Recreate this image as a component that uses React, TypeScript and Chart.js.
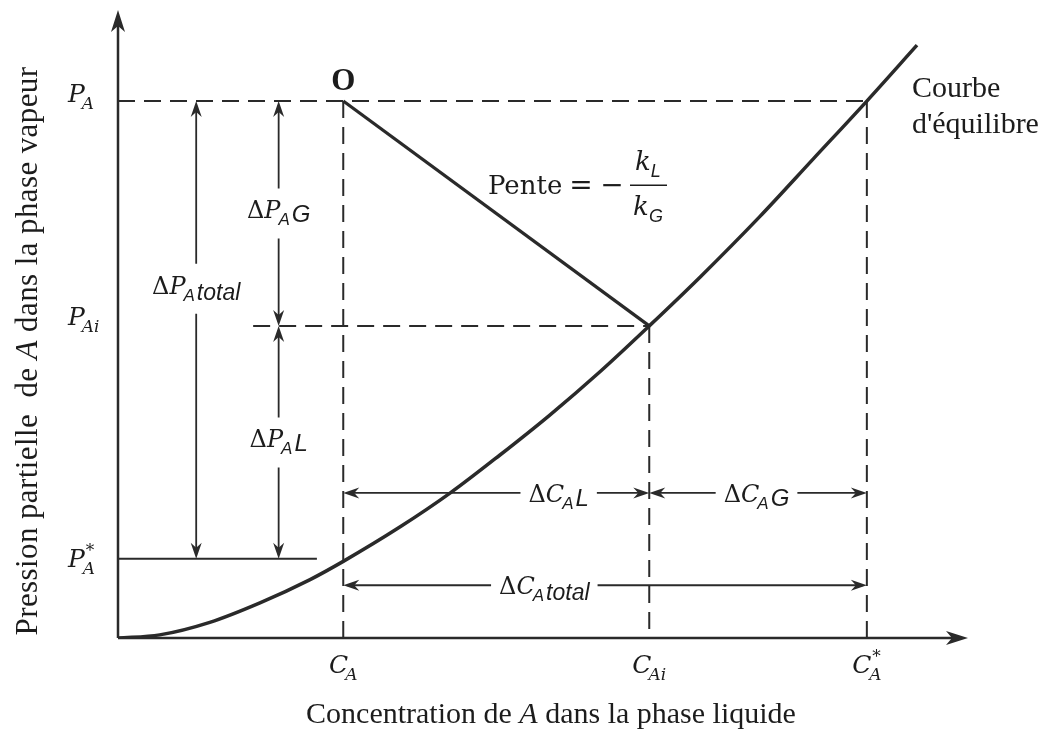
import { useEffect, useRef } from 'react';
import { Chart, registerables } from 'chart.js';

Chart.register(...registerables);

// Liquid-phase concentrations and vapour-phase partial pressures (arbitrary units, 0–100)
const C_A = 26.5;
const C_Ai = 62.5;
const C_Astar = 88.1;
const P_A = 85.5;
const P_Ai = 49.7;
const P_Astar = 12.6;

// Equilibrium curve P = f(C)
const curveC = [0, 4.9, 10.8, 16.7, 22.6, 26.5, 33.2, 39.1, 44.9, 50.8, 56.7, 62.5, 68.5, 75.5, 81.8, 88.1, 94.0];
const curveP = [0, 0.5, 2.5, 5.6, 9.3, 12.2, 17.7, 23.1, 29.1, 35.5, 42.4, 49.7, 57.5, 67.1, 76.3, 85.5, 94.4];

// Axis tick labels (base letter, subscript, superscript)
const xTickValues = [C_A, C_Ai, C_Astar];
const xTickBase = ['C', 'C', 'C'];
const xTickSub = ['A', 'Ai', 'A'];
const xTickSup = ['', '', '*'];

const yTickValues = [P_A, P_Ai, P_Astar];
const yTickBase = ['P', 'P', 'P'];
const yTickSub = ['A', 'Ai', 'A'];
const yTickSup = ['', '', '*'];

const xTitle = ['Concentration de ', 'A', ' dans la phase liquide'];
const yTitle = ['Pression partielle  de ', 'A', ' dans la phase vapeur'];

const MATH = '"DejaVu Serif", serif';
const SERIF = '"Liberation Serif", "Times New Roman", serif';
const SANS = '"Liberation Sans", Arial, sans-serif';
const INK = '#1c1c1c';
const LINE = '#2a2a2a';

type Run = { t: string; font: string; dy?: number; dx?: number; noAdvance?: boolean };

function runsWidth(ctx: CanvasRenderingContext2D, runs: Run[]) {
  let w = 0;
  for (const r of runs) {
    ctx.font = r.font;
    w += r.dx || 0;
    if (!r.noAdvance) w += ctx.measureText(r.t).width;
  }
  return w;
}

function drawRuns(ctx: CanvasRenderingContext2D, runs: Run[], x: number, y: number, align: 'left' | 'center' | 'right') {
  const w = runsWidth(ctx, runs);
  let cx = align === 'left' ? x : align === 'center' ? x - w / 2 : x - w;
  ctx.textAlign = 'left';
  ctx.textBaseline = 'alphabetic';
  for (const r of runs) {
    ctx.font = r.font;
    cx += r.dx || 0;
    ctx.fillText(r.t, cx, y + (r.dy || 0));
    if (!r.noAdvance) cx += ctx.measureText(r.t).width;
  }
  return w;
}

function tickRuns(base: string, sub: string, sup: string): Run[] {
  const runs: Run[] = [{ t: base, font: `italic 25px ${MATH}` }];
  if (sup) runs.push({ t: sup, font: `17px ${MATH}`, dy: -11, dx: 1, noAdvance: true });
  runs.push({ t: sub, font: `italic 17px ${MATH}`, dy: 7, dx: -3 });
  return runs;
}

function deltaRuns(sym: string, tail: string, tailFont: string, tailDy: number): Run[] {
  return [
    { t: 'Δ', font: `24px ${MATH}` },
    { t: sym, font: `italic 24px ${MATH}` },
    { t: 'A', font: `italic 17px ${SANS}`, dy: 7, dx: -2 },
    { t: tail, font: tailFont, dy: tailDy, dx: 2 },
  ];
}

function arrowHead(ctx: CanvasRenderingContext2D, x: number, y: number, angle: number, len: number, half: number, notch: number) {
  ctx.save();
  ctx.translate(x, y);
  ctx.rotate(angle);
  ctx.beginPath();
  ctx.moveTo(0, 0);
  ctx.lineTo(-len, -half);
  ctx.lineTo(-len + notch, 0);
  ctx.lineTo(-len, half);
  ctx.closePath();
  ctx.fill();
  ctx.restore();
}

// Dimension arrows: position of the line, span, and where the label sits along it (fraction)
const vDims = [
  { at: 9.2, from: P_A, to: P_Astar, f: 0.41, runs: deltaRuns('P', 'total', `italic 23px ${SANS}`, 6) },
  { at: 18.9, from: P_A, to: P_Ai, f: 0.5, runs: deltaRuns('P', 'G', `italic 24px ${SANS}`, 4) },
  { at: 18.9, from: P_Ai, to: P_Astar, f: 0.5, runs: deltaRuns('P', 'L', `italic 24px ${SANS}`, 4) },
];
const hDims = [
  { at: 23.1, from: C_A, to: C_Ai, f: 0.704, runs: deltaRuns('C', 'L', `italic 24px ${SANS}`, 4) },
  { at: 23.1, from: C_Ai, to: C_Astar, f: 0.493, runs: deltaRuns('C', 'G', `italic 24px ${SANS}`, 4) },
  { at: 8.4, from: C_A, to: C_Astar, f: 0.384, runs: deltaRuns('C', 'total', `italic 23px ${SANS}`, 6) },
];

const diagramPlugin = {
  id: 'diagram',
  beforeDraw(chart: any) {
    const ctx = chart.ctx as CanvasRenderingContext2D;
    ctx.save();
    ctx.fillStyle = '#ffffff';
    ctx.fillRect(0, 0, chart.width, chart.height);
    ctx.restore();
  },
  afterDatasetsDraw(chart: any) {
    const ctx = chart.ctx as CanvasRenderingContext2D;
    const xs = chart.scales.x;
    const ys = chart.scales.y;
    const px = (v: number) => xs.getPixelForValue(v);
    const py = (v: number) => ys.getPixelForValue(v);
    ctx.save();
    ctx.strokeStyle = LINE;
    ctx.fillStyle = LINE;
    ctx.lineCap = 'butt';

    // Axes with arrow tips
    const ox = px(0), oy = py(0);
    ctx.lineWidth = 2.5;
    ctx.beginPath();
    ctx.moveTo(ox, oy);
    ctx.lineTo(ox, py(100) + 8);
    ctx.moveTo(ox, oy);
    ctx.lineTo(px(100) - 8, oy);
    ctx.stroke();
    arrowHead(ctx, ox, py(100), -Math.PI / 2, 22, 7, 6);
    arrowHead(ctx, px(100), oy, 0, 22, 7, 6);

    // Dimension arrows
    ctx.lineWidth = 1.8;
    const vGap = 25;
    for (const d of vDims) {
      const x = px(d.at);
      const y1 = py(d.from), y2 = py(d.to);
      const gc = y1 + (y2 - y1) * d.f;
      ctx.beginPath();
      ctx.moveTo(x, y1 + 4);
      ctx.lineTo(x, gc - vGap);
      ctx.moveTo(x, gc + vGap);
      ctx.lineTo(x, y2 - 4);
      ctx.stroke();
      arrowHead(ctx, x, y1, -Math.PI / 2, 16, 5.5, 5);
      arrowHead(ctx, x, y2, Math.PI / 2, 16, 5.5, 5);
      ctx.fillStyle = INK;
      drawRuns(ctx, d.runs, x, gc + 5, 'center');
      ctx.fillStyle = LINE;
    }
    for (const d of hDims) {
      const y = py(d.at);
      const x1 = px(d.from), x2 = px(d.to);
      const gc = x1 + (x2 - x1) * d.f;
      const w = runsWidth(ctx, d.runs);
      const half = w / 2 + 8;
      ctx.beginPath();
      ctx.moveTo(x1 + 4, y);
      ctx.lineTo(gc - half, y);
      ctx.moveTo(gc + half, y);
      ctx.lineTo(x2 - 4, y);
      ctx.stroke();
      arrowHead(ctx, x1, y, Math.PI, 16, 5.5, 5);
      arrowHead(ctx, x2, y, 0, 16, 5.5, 5);
      ctx.fillStyle = INK;
      drawRuns(ctx, d.runs, gc, y + 9, 'center');
      ctx.fillStyle = LINE;
    }

    ctx.fillStyle = INK;
    // Tick labels on the pressure axis
    yTickValues.forEach((v, i) => {
      const lower = yTickSup[i] ? 8 : (i === 1 ? -1 : 1);
      drawRuns(ctx, tickRuns(yTickBase[i], yTickSub[i], yTickSup[i]), ox - 50, py(v) + lower, 'left');
    });
    // Tick labels on the concentration axis
    xTickValues.forEach((v, i) => {
      drawRuns(ctx, tickRuns(xTickBase[i], xTickSub[i], xTickSup[i]), px(v), oy + 35, 'center');
    });

    // Axis titles
    drawRuns(ctx, [
      { t: xTitle[0], font: `30px ${SERIF}` },
      { t: xTitle[1], font: `italic 30px ${SERIF}` },
      { t: xTitle[2], font: `30px ${SERIF}` },
    ], 551, 723, 'center');
    ctx.save();
    ctx.translate(37, 351);
    ctx.rotate(-Math.PI / 2);
    (ctx as any).letterSpacing = '0.4px';
    drawRuns(ctx, [
      { t: yTitle[0], font: `31px ${SERIF}` },
      { t: yTitle[1], font: `italic 31px ${SERIF}` },
      { t: yTitle[2], font: `31px ${SERIF}` },
    ], 0, 0, 'center');
    (ctx as any).letterSpacing = '0px';
    ctx.restore();

    // Operating point O
    drawRuns(ctx, [{ t: 'O', font: `bold 31px ${SERIF}` }], px(C_A), py(P_A) - 11, 'center');

    // Slope of the operating line
    const sx = px(54), sy = py(72.1);
    drawRuns(ctx, [{ t: 'Pente', font: `26px ${MATH}` }], sx - 89, sy + 9, 'left');
    drawRuns(ctx, [{ t: '=', font: `28px ${MATH}` }], sx + 4, sy + 9, 'center');
    drawRuns(ctx, [{ t: '−', font: `28px ${MATH}` }], sx + 35, sy + 9, 'center');
    ctx.strokeStyle = INK;
    ctx.lineWidth = 1.6;
    ctx.beginPath();
    ctx.moveTo(sx + 53, sy);
    ctx.lineTo(sx + 90, sy);
    ctx.stroke();
    drawRuns(ctx, [
      { t: 'k', font: `italic 26px ${MATH}` },
      { t: 'L', font: `italic 18px ${SANS}`, dy: 7 },
    ], sx + 71, sy - 15, 'center');
    drawRuns(ctx, [
      { t: 'k', font: `italic 26px ${MATH}` },
      { t: 'G', font: `italic 18px ${SANS}`, dy: 7 },
    ], sx + 71, sy + 30, 'center');

    // Curve label
    const cx = px(93.4), cy = py(86.1);
    drawRuns(ctx, [{ t: 'Courbe', font: `30px ${SERIF}` }], cx, cy, 'left');
    drawRuns(ctx, [{ t: "d'équilibre", font: `30px ${SERIF}` }], cx, cy + 36, 'left');

    ctx.restore();
  },
};

const dashed = { borderColor: LINE, borderWidth: 2, borderDash: [17, 9], showLine: true, pointRadius: 0, fill: false };
const solid = { borderColor: LINE, showLine: true, pointRadius: 0, fill: false };

export default function App() {
  const ref = useRef<HTMLCanvasElement | null>(null);
  useEffect(() => {
    if (!ref.current) return;
    const chart = new Chart(ref.current, {
      type: 'scatter',
      data: {
        datasets: [
          { ...dashed, data: [{ x: 0, y: P_A }, { x: C_Astar, y: P_A }] },
          { ...dashed, data: [{ x: 15.9, y: P_Ai }, { x: C_Ai, y: P_Ai }] },
          { ...dashed, data: [{ x: C_A, y: P_A }, { x: C_A, y: 0 }] },
          { ...dashed, data: [{ x: C_Ai, y: P_Ai }, { x: C_Ai, y: 0 }] },
          { ...dashed, data: [{ x: C_Astar, y: P_A }, { x: C_Astar, y: 0 }] },
          { ...solid, borderWidth: 2, data: [{ x: 0, y: P_Astar }, { x: 23.4, y: P_Astar }] },
          { ...solid, borderWidth: 3.2, data: [{ x: C_A, y: P_A }, { x: C_Ai, y: P_Ai }] },
          {
            ...solid,
            borderWidth: 3.5,
            cubicInterpolationMode: 'monotone',
            data: curveC.map((c, i) => ({ x: c, y: curveP[i] })),
          },
        ] as any,
      },
      options: {
        animation: false,
        responsive: false,
        devicePixelRatio: 1,
        layout: { padding: { left: 118, right: 74, top: 10, bottom: 95 } },
        scales: {
          x: { type: 'linear', min: 0, max: 100, display: false },
          y: { type: 'linear', min: 0, max: 100, display: false },
        },
        plugins: { legend: { display: false }, tooltip: { enabled: false } },
      },
      plugins: [diagramPlugin],
    });
    return () => chart.destroy();
  }, []);
  return (
    <canvas
      ref={ref}
      width={1042}
      height={733}
      style={{ position: 'absolute', left: 0, top: 0, display: 'block' }}
    />
  );
}
